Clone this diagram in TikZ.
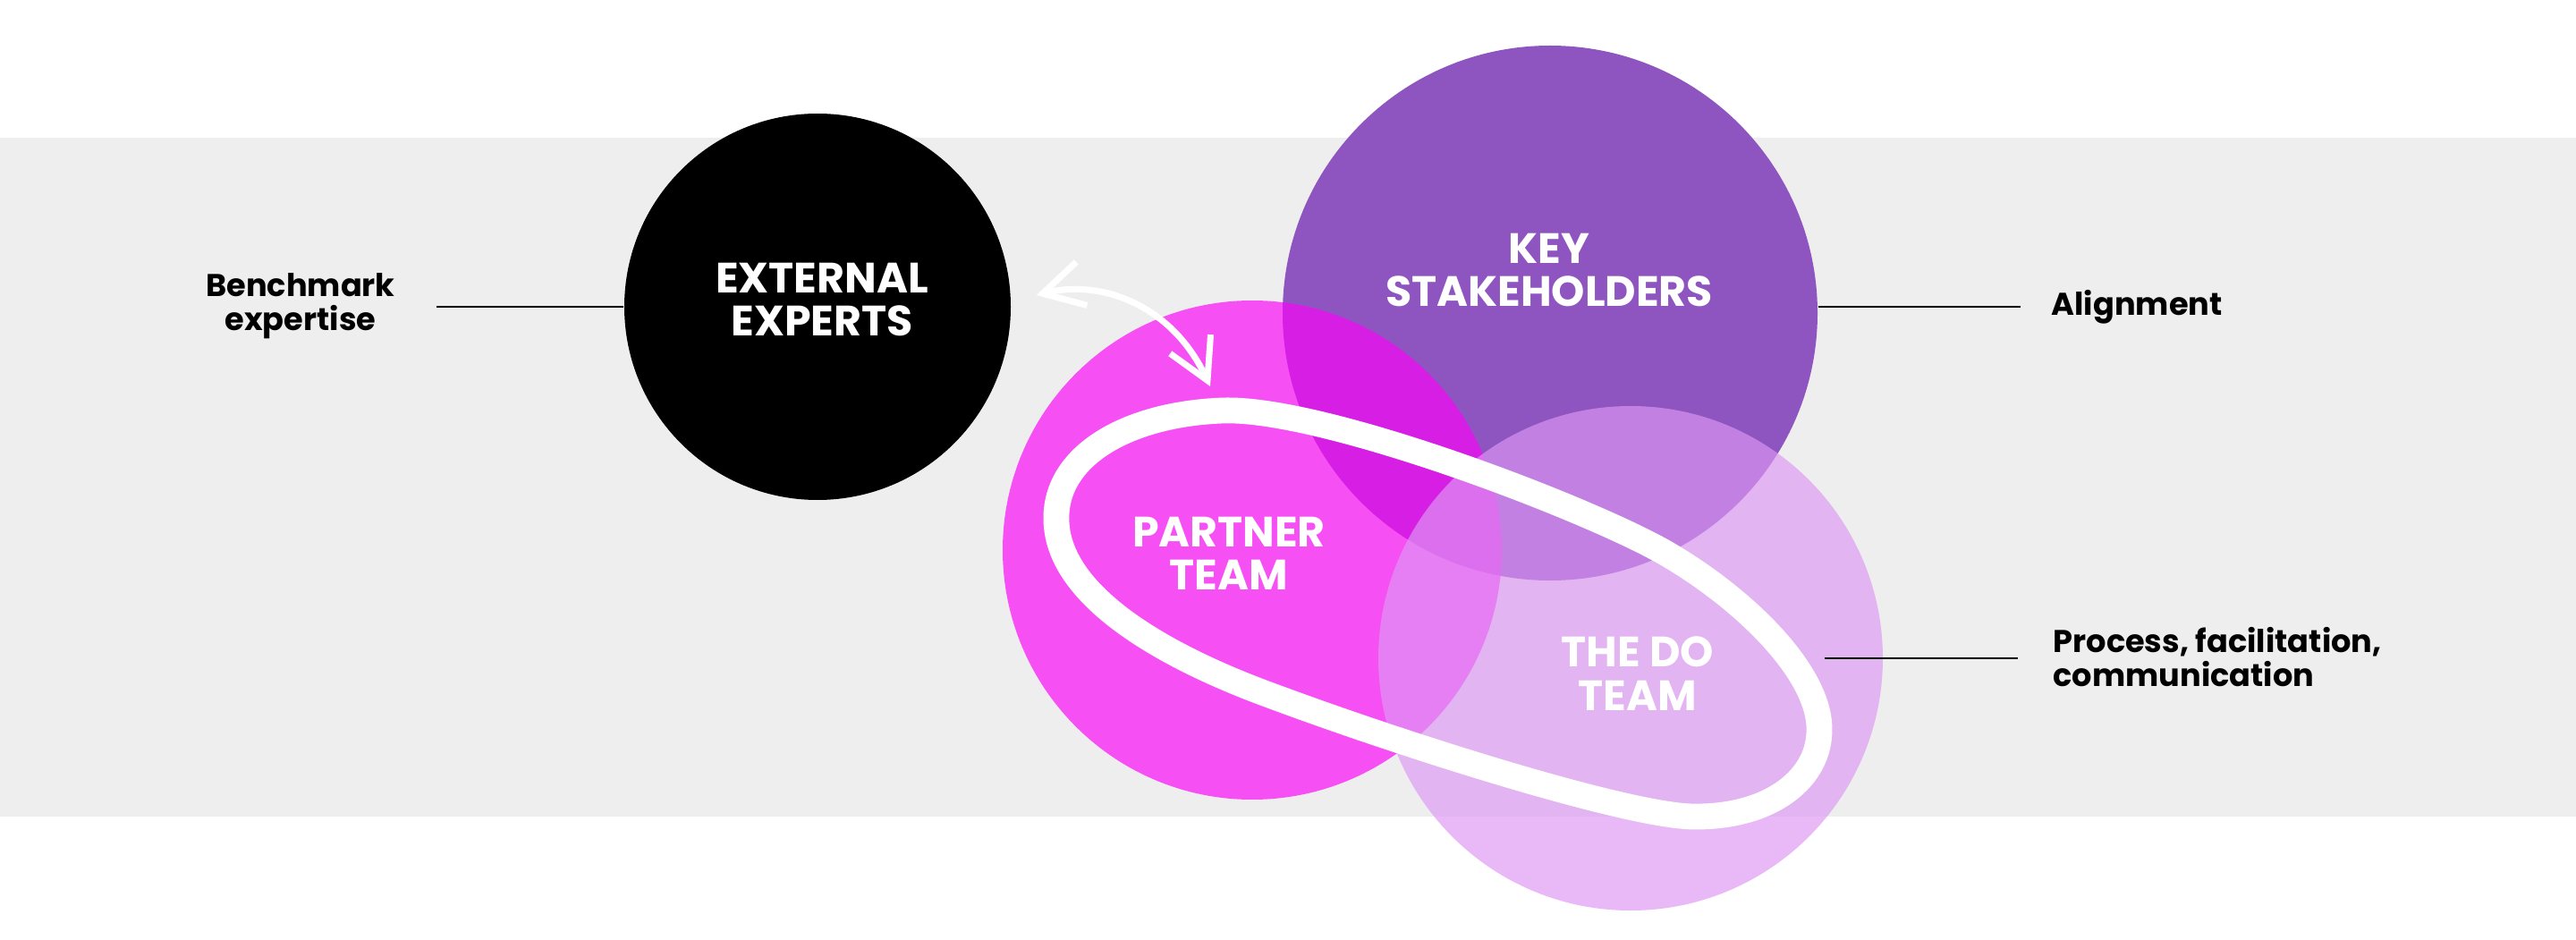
\documentclass[tikz,border=0pt]{standalone}
\usepackage{fontspec}
\setmainfont{Poppins}
\usepackage{xcolor}
\usepackage{tikz}
\usetikzlibrary{arrows.meta,positioning,calc}

\definecolor{bandgray}{HTML}{EEEEEE}
\definecolor{keypurple}{HTML}{8E55C0}
\definecolor{partnermag}{RGB}{251,4,248}
\definecolor{dolav}{RGB}{221,152,243}

\begin{document}
\begin{tikzpicture}[
  circ/.style={circle, inner sep=0pt, minimum size=#1},
  title/.style={text=white, font=\bfseries\fontsize{13.5}{13.8}\selectfont, align=center, inner sep=0pt},
  note/.style={font=\bfseries\fontsize{10}{10.8}\selectfont, inner sep=0pt},
  leader/.style={line width=0.6pt},
  ring/.style={white, line width=8.2pt, line join=round},
  swaparrow/.style={white, line width=2pt, line cap=round, line join=round,
    {Straight Barb[length=4.5mm,width=5mm]}-{Straight Barb[length=4.5mm,width=5mm]}}
]
% Background and band
\fill[white] (0,0) rectangle (28.8,10.5);
\fill[bandgray] (0,1.37) rectangle (28.8,8.96);
\useasboundingbox (0,0) rectangle (28.8,10.5);

% Circles
\node[circ=5.98cm, fill=keypurple] (key) at (17.33,7.00) {};
\node[circ=4.32cm, fill=black] (ext) at (9.14,7.07) {};
\node[circ=5.58cm, fill=partnermag, fill opacity=0.68] (partner) at (14.00,4.35) {};
\node[circ=5.64cm, fill=dolav, fill opacity=0.67] (doteam) at (18.23,3.14) {};

% Circle titles
\node[title] (exttxt) at (9.19,7.15) {EXTERNAL\\EXPERTS};
\node[title] (keytxt) at (17.32,7.48) {KEY\\STAKEHOLDERS};
\node[title] (partnertxt) at (13.74,4.31) {PARTNER\\TEAM};
\node[title] (dotxt) at (18.31,2.97) {THE DO\\TEAM};

% Side notes and leaders
\node[note, align=center] (bench) at (3.36,7.08) {Benchmark\\expertise};
\node[note, anchor=base west] (align) at (22.93,6.97) {Alignment};
\node[note, align=left, anchor=west] (process) at (22.95,3.15) {Process, facilitation,\\communication};

\coordinate[left=2.09cm of ext.west] (benchend);
\coordinate (keyout) at (key.east |- ext.east);
\coordinate[right=2.26cm of keyout] (alignend);
\coordinate[xshift=-6.6mm] (doin) at (doteam.east);
\coordinate[right=2.16cm of doin] (processend);

\draw[leader] (ext.west) -- (benchend);
\draw[leader] (keyout) -- (alignend);
\draw[leader] (doin) -- (processend);

% Loop round partner and do team
\draw[ring] (13.67,5.91) .. controls (12.6,5.87) and (11.78,5.4) .. (11.81,4.67)
  .. controls (11.84,3.8) and (13.1,3.13) .. (14.19,2.73)
  .. controls (15.8,2.13) and (18.3,1.35) .. (18.97,1.37)
  .. controls (19.8,1.37) and (20.36,1.8) .. (20.34,2.37)
  .. controls (20.32,3.0) and (19.5,3.8) .. (18.65,4.30)
  .. controls (17.8,4.8) and (14.8,5.95) .. cycle;

% Two-way arrow
\coordinate (handoff) at (13.53,6.18);
\draw[swaparrow] ([shift={(0.28,0.13)}]ext.east) .. controls (12.3,7.38) and (13.1,7.1) .. (handoff);
\end{tikzpicture}
\end{document}
